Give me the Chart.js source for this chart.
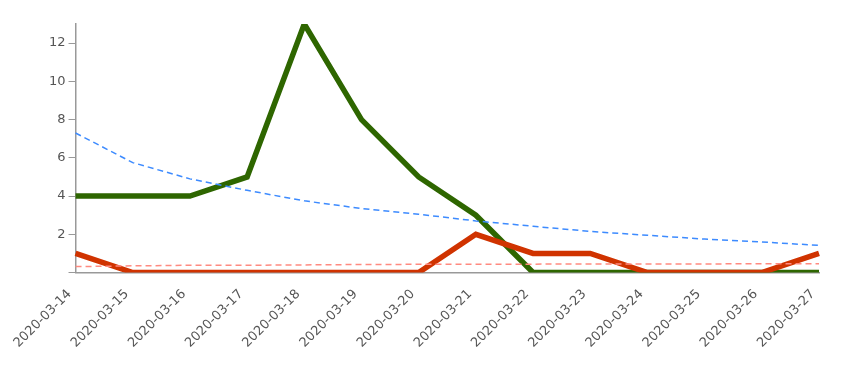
<!DOCTYPE html>
<html>
<head>
<meta charset="utf-8">
<script src="https://cdn.jsdelivr.net/npm/chart.js@4/dist/chart.umd.min.js"></script>
<style>
  html, body { margin: 0; padding: 0; background: #fff; }
</style>
</head>
<body>
<canvas id="chart" width="867" height="371"></canvas>
<script>
const dates = ["2020-03-14", "2020-03-15", "2020-03-16", "2020-03-17", "2020-03-18", "2020-03-19", "2020-03-20",
  "2020-03-21", "2020-03-22", "2020-03-23", "2020-03-24", "2020-03-25", "2020-03-26", "2020-03-27"];

const greenSeries = [4, 4, 4, 5, 13, 8, 5, 3, 0, 0, 0, 0, 0, 0];
const redSeries = [1, 0, 0, 0, 0, 0, 0, 2, 1, 1, 0, 0, 0, 1];
const blueTrend = [7.3, 5.75, 4.9, 4.3, 3.75, 3.35, 3.05, 2.7, 2.42, 2.15, 1.95, 1.75, 1.6, 1.42];
const redTrend = [0.31, 0.35, 0.38, 0.38, 0.4, 0.42, 0.43, 0.44, 0.44, 0.45, 0.45, 0.45, 0.46, 0.46];

const yTicks = [0, 2, 4, 6, 8, 10, 12];

Chart.defaults.font.family = "DejaVu Sans";
Chart.defaults.font.size = 13;
Chart.defaults.color = "#555";

new Chart(document.getElementById("chart"), {
  type: "line",
  data: {
    labels: dates,
    datasets: [
      {
        data: redTrend,
        borderColor: "#ff8a80",
        borderWidth: 1.5,
        borderDash: [6, 4],
        pointRadius: 0,
        tension: 0,
        order: 1
      },
      {
        data: blueTrend,
        borderColor: "#3d8bff",
        borderWidth: 1.5,
        borderDash: [6, 4],
        pointRadius: 0,
        tension: 0,
        order: 2
      },
      {
        data: redSeries,
        borderColor: "#d03300",
        borderWidth: 5.5,
        pointRadius: 0,
        tension: 0,
        order: 3
      },
      {
        data: greenSeries,
        borderColor: "#2e6600",
        borderWidth: 5.5,
        pointRadius: 0,
        tension: 0,
        order: 4
      }
    ]
  },
  options: {
    responsive: false,
    animation: false,
    layout: { padding: { top: 24, right: 48, bottom: 14, left: 46 } },
    plugins: { legend: { display: false }, tooltip: { enabled: false } },
    scales: {
      x: {
        offset: false,
        grid: { display: false },
        border: { display: true, color: "#999", width: 1.5 },
        ticks: { maxRotation: 45, minRotation: 45, autoSkip: false, color: "#555", padding: 6, labelOffset: -6 }
      },
      y: {
        min: 0,
        max: 13,
        afterBuildTicks: (axis) => { axis.ticks = yTicks.map(v => ({ value: v })); },
        grid: { drawOnChartArea: false, color: "#999", tickLength: 7 },
        border: { color: "#999", width: 1.5 },
        ticks: {
          color: "#555",
          padding: 3,
          callback: (v) => (v === 0 ? "" : v)
        }
      }
    }
  }
});
</script>
</body>
</html>
